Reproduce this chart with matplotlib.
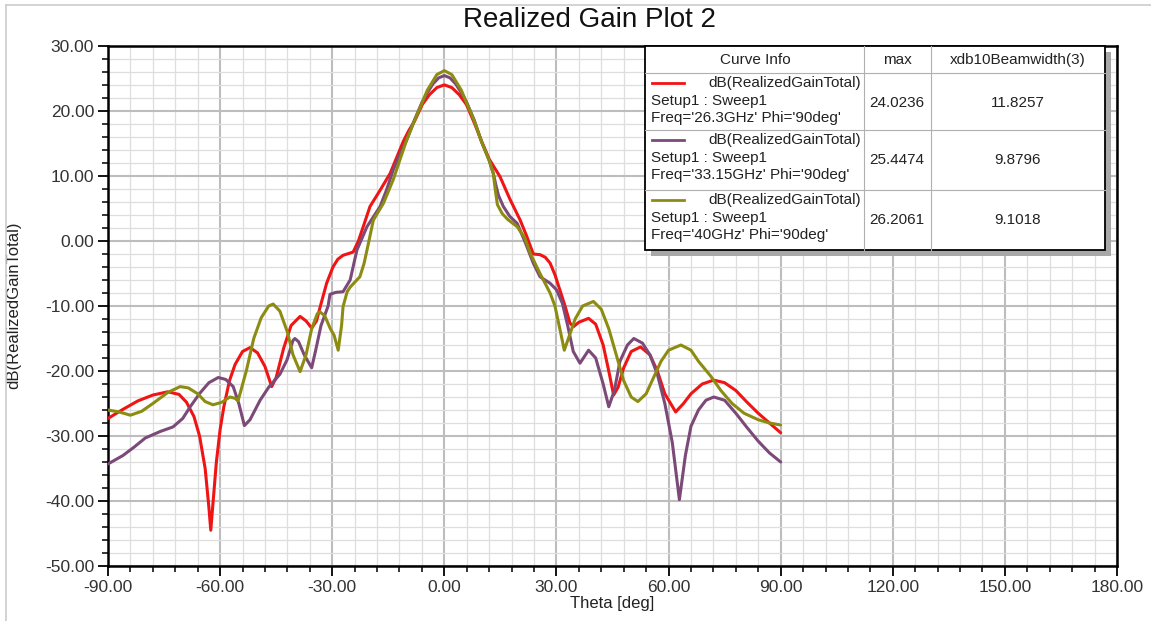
import numpy as np
import matplotlib.pyplot as plt
from matplotlib.patches import Rectangle
from matplotlib.ticker import MultipleLocator, FormatStrFormatter

plt.rcParams['font.family'] = ['Liberation Sans', 'DejaVu Sans']

# theta [deg] / dB(RealizedGainTotal)
theta_263 = [-90, -86, -82, -78, -74, -71, -69, -67, -65.5, -64, -63, -62.5, -62, -61, -60, -59,
             -57.5, -56, -54, -52, -50, -48, -46.2, -45, -43, -41, -38.6, -37, -35.5, -34.2,
             -33.3, -31.5, -29.8, -28.5, -27.1, -24.4, -23, -21.7, -19.9, -17.2, -14.5, -12.5,
             -11, -9.5, -8, -5.9, -4, -2, 0, 2, 4, 5.9, 8, 10, 12, 14.9, 17.5, 20.3, 22, 23.8,
             25.6, 27, 28.3, 29.6, 30.9, 32.3, 33.6, 34.5, 36, 38.6, 40.5, 42.5, 44, 45.3,
             46.5, 48, 50, 52.5, 55, 57, 59, 61.9, 64, 66, 69, 72.1, 75, 78, 81, 84, 87, 90]
gain_263 = [-27.3, -25.9, -24.6, -23.7, -23.2, -23.6, -24.8, -27.0, -30.0, -35.0, -41.0, -44.5,
            -41.0, -34.0, -29.0, -25.5, -21.5, -19.0, -17.0, -16.4, -17.2, -19.3, -22.4, -21.0,
            -16.5, -13.0, -11.6, -12.3, -13.4, -12.3, -10.3, -6.5, -4.0, -2.8, -2.2, -1.7, 0.0,
            2.2, 5.3, 7.8, 10.4, 13.2, 15.3, 17.0, 18.4, 21.0, 22.5, 23.6, 24.02, 23.6, 22.5,
            21.0, 18.2, 15.3, 12.6, 9.9, 6.5, 3.2, 0.8, -2.0, -2.1, -2.5, -3.4, -5.2, -7.5,
            -10.0, -12.6, -13.2, -12.5, -11.9, -12.8, -16.0, -20.0, -23.7, -22.5, -19.5, -17.0,
            -16.3, -17.5, -20.0, -23.5, -26.3, -25.0, -23.5, -22.0, -21.4, -21.8, -23.0, -24.8,
            -26.5, -28.0, -29.5]

theta_3315 = [-90, -86, -83, -80, -76, -72.6, -70, -68, -65.4, -63, -60.5, -58.5, -56.5, -55,
              -53.5, -52, -49.3, -47, -45.5, -44, -42.1, -40.5, -40, -39, -37.5, -35.5, -34.5,
              -33, -31.1, -30.6, -29, -27.1, -25.2, -23.4, -20.7, -17.2, -15.5, -13.7, -12,
              -10.1, -8, -6, -4.94, -3, -1.5, 0, 1.5, 3, 4.94, 6, 8, 10, 12, 13.1, 13.8, 14.5,
              15.8, 17.5, 19.5, 21.5, 23.8, 25.6, 28.3, 30, 31.6, 33, 34.5, 36.3, 38.6, 40.5,
              42.5, 44, 45.5, 47, 49, 50.7, 53, 55, 57, 59, 61, 62.9, 64.5, 66, 68, 70, 72.1, 75,
              78, 81, 84, 87, 90]
gain_3315 = [-34.3, -33.0, -31.7, -30.3, -29.3, -28.6, -27.3, -25.5, -23.4, -21.8, -21.0, -21.3,
             -22.4, -25.0, -28.4, -27.5, -24.5, -22.5, -21.5, -20.5, -18.3, -15.3, -15.0, -15.5,
             -17.5, -19.5, -17.0, -13.0, -10.0, -8.2, -7.9, -7.8, -6.0, -1.4, 2.2, 5.3, 7.8,
             10.9, 13.2, 15.5, 18.6, 21.3, 22.45, 24.2, 25.1, 25.45, 25.1, 24.2, 22.45, 21.3,
             18.6, 15.2, 12.4, 10.4, 8.6, 7.0, 5.3, 3.8, 2.7, 0.0, -3.4, -5.5, -6.5, -7.5, -9.6,
             -13.0, -17.0, -18.8, -16.8, -18.0, -22.0, -25.5, -23.0, -18.5, -16.0, -15.0, -15.7,
             -17.5, -20.5, -25.0, -31.0, -39.8, -33.0, -28.5, -26.0, -24.5, -24.0, -24.5, -26.5,
             -28.7, -30.8, -32.6, -34.0]

theta_40 = [-90, -87, -84, -81, -78, -74, -70.7, -68.5, -66, -64, -61.9, -59.5, -57.4, -56,
            -55.2, -53, -51, -49, -47, -45.8, -44, -42, -40.5, -38.6, -37, -35.5, -34, -33.3,
            -32, -30.5, -29.5, -28.4, -27.5, -27.1, -26, -25.2, -22.6, -21.5, -20.7, -19, -16.3,
            -13.7, -12, -10.1, -8, -6, -4.55, -2, 0, 2, 4.55, 6, 8, 10, 12, 13.1, 13.6, 14.2,
            15.5, 17, 19.5, 21.5, 23, 25.6, 28.3, 29.6, 30.9, 32.1, 33.5, 35, 37, 39.9, 42, 44,
            46, 48, 50, 51.8, 54, 56, 58, 60, 63.3, 66, 68, 71.3, 74, 77, 80.2, 84, 87, 90]
gain_40 = [-26.0, -26.3, -26.8, -26.2, -25.0, -23.3, -22.4, -22.6, -23.5, -24.7, -25.2, -24.8,
           -24.0, -24.2, -24.6, -20.0, -15.0, -11.8, -10.0, -9.7, -10.8, -14.0, -17.5, -20.1,
           -17.5, -13.5, -11.2, -10.9, -11.5, -13.5, -14.5, -16.8, -13.0, -10.1, -7.8, -7.1,
           -5.5, -3.5, -1.4, 3.2, 5.8, 9.4, 12.3, 15.5, 18.5, 21.2, 23.2, 25.6, 26.21, 25.6,
           23.2, 21.2, 18.5, 15.2, 12.4, 10.4, 8.0, 5.6, 4.2, 3.3, 2.2, 0.5, -1.9, -5.0, -8.0,
           -10.0, -13.5, -16.8, -14.5, -12.0, -10.0, -9.3, -10.5, -13.5, -17.5, -21.5, -24.0,
           -24.7, -23.5, -21.0, -18.5, -16.8, -16.0, -16.8, -18.5, -20.8, -23.0, -25.0, -26.5,
           -27.5, -28.0, -28.3]

curve_colors = ['#f01414', '#7b4a78', '#8c8c12']
freq_labels = ["Freq='26.3GHz' Phi='90deg'", "Freq='33.15GHz' Phi='90deg'", "Freq='40GHz' Phi='90deg'"]
max_values = ['24.0236', '25.4474', '26.2061']
beamwidths = ['11.8257', '9.8796', '9.1018']

W, H = 1151, 621
fig = plt.figure(figsize=(W / 100, H / 100), dpi=100)

ax = fig.add_axes([108 / W, 1 - 566 / H, (1117 - 108) / W, (566 - 46) / H])
ax.set_xlim(-90, 180)
ax.set_ylim(-50, 30)
ax.xaxis.set_major_locator(MultipleLocator(30))
ax.xaxis.set_minor_locator(MultipleLocator(6))
ax.yaxis.set_major_locator(MultipleLocator(10))
ax.yaxis.set_minor_locator(MultipleLocator(2))
ax.xaxis.set_major_formatter(FormatStrFormatter('%.2f'))
ax.yaxis.set_major_formatter(FormatStrFormatter('%.2f'))
ax.grid(which='minor', color='#dedede', lw=0.9)
ax.grid(which='major', color='#bdbdbd', lw=1.5)
ax.set_axisbelow(True)
for side in ['left', 'bottom', 'top', 'right']:
    ax.spines[side].set_linewidth(1.8)
    ax.spines[side].set_color('black')
ax.tick_params(which='major', direction='out', length=7, width=1.3, labelsize=12.5,
               labelcolor='#333333', pad=3)
ax.tick_params(which='minor', direction='out', length=4, width=1.1)
ax.tick_params(top=False, right=False, which='both')

series = [(theta_263, gain_263), (theta_3315, gain_3315), (theta_40, gain_40)]
for (th, g), c in zip(series, curve_colors):
    ax.plot(th, g, color=c, lw=2.2, solid_joinstyle='round', solid_capstyle='round', zorder=3)

ax.set_xlabel('Theta [deg]', fontsize=12, color='#222222', labelpad=1)
fig.text(14 / W, 1 - 305 / H, 'dB(RealizedGainTotal)', rotation=90, fontsize=12,
         color='#222222', ha='center', va='center')
fig.text(589 / W, 1 - 20 / H, 'Realized Gain Plot 2', fontsize=20, ha='center', va='center',
         color='#111111')

# overlay in pixel units for frame and curve info table
ov = fig.add_axes([0, 0, 1, 1], zorder=5)
ov.set_xlim(0, W)
ov.set_ylim(H, 0)
ov.axis('off')
ov.plot([6, 6], [5, H], color='#cccccc', lw=1.2)
ov.plot([6, W], [5, 5], color='#cccccc', lw=1.2)

tx0, tx1, ty0, ty1 = 645, 1105, 46, 250
ov.add_patch(Rectangle((tx0 + 6, ty0 + 6), tx1 - tx0, ty1 - ty0, facecolor='#a8a8a8',
                       edgecolor='none'))
ov.add_patch(Rectangle((tx0, ty0), tx1 - tx0, ty1 - ty0, facecolor='white',
                       edgecolor='black', lw=1.3))
col_x = [864, 931]
row_y = [73, 130, 190]
for cx in col_x:
    ov.plot([cx, cx], [ty0, ty1], color='#b0b0b0', lw=0.8)
for ry in row_y:
    ov.plot([tx0, tx1], [ry, ry], color='#b0b0b0', lw=0.8)

fs = 11
ov.text(755, 60, 'Curve Info', fontsize=fs, ha='center', va='center', color='#222222')
ov.text(897, 60, 'max', fontsize=fs, ha='center', va='center', color='#222222')
ov.text(1018, 60, 'xdb10Beamwidth(3)', fontsize=fs, ha='center', va='center', color='#222222')
for i in range(3):
    y0 = row_y[i]
    ov.plot([652, 684], [y0 + 10, y0 + 10], color=curve_colors[i], lw=2.0)
    ov.text(861, y0 + 10, 'dB(RealizedGainTotal)', fontsize=fs, ha='right', va='center',
            color='#222222')
    ov.text(651, y0 + 28, 'Setup1 : Sweep1', fontsize=fs, ha='left', va='center',
            color='#222222')
    ov.text(651, y0 + 45, freq_labels[i], fontsize=fs, ha='left', va='center',
            color='#222222')
    ov.text(897, y0 + 30, max_values[i], fontsize=fs, ha='center', va='center',
            color='#222222')
    ov.text(1018, y0 + 30, beamwidths[i], fontsize=fs, ha='center', va='center',
            color='#222222')

fig.savefig('out.png', dpi=100)
